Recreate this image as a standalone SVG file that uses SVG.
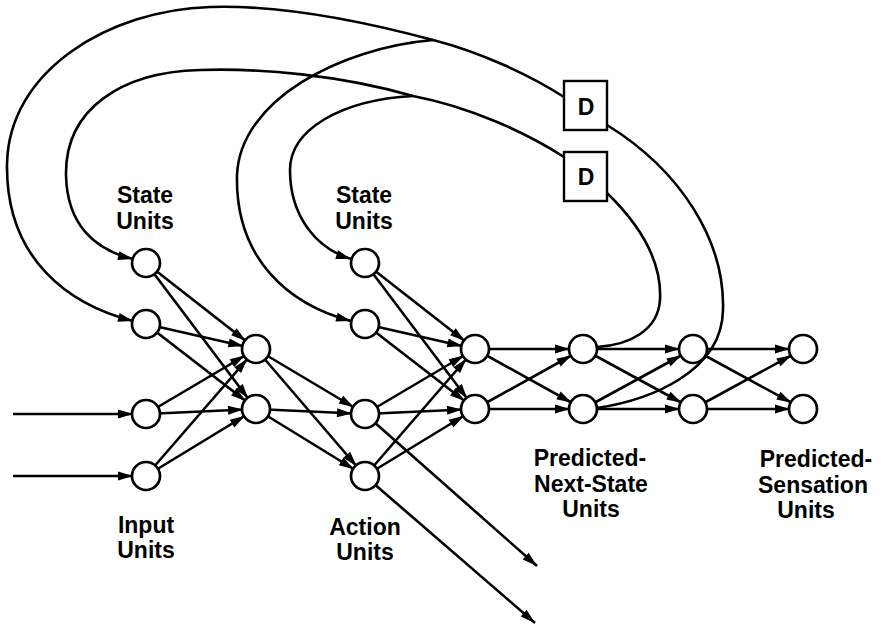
<svg xmlns="http://www.w3.org/2000/svg" width="882" height="629" viewBox="0 0 882 629">
<style>
.n{fill:#fff;stroke:#000;stroke-width:2.7}
.e{fill:none;stroke:#000;stroke-width:2.6;marker-end:url(#ac)}
.o{fill:none;stroke:#000;stroke-width:2.6;marker-end:url(#at)}
.f{fill:none;stroke:#000;stroke-width:2.6}
.d{fill:#fff;stroke:#000;stroke-width:2.4}
.t{font-family:"Liberation Sans",Arial,Helvetica,sans-serif;font-weight:bold;font-size:23px;text-anchor:middle;fill:#000}
.dt{font-family:"Liberation Sans",Arial,Helvetica,sans-serif;font-weight:bold;font-size:23px;text-anchor:middle;fill:#000}
</style>
<defs>
<marker id="ac" markerUnits="userSpaceOnUse" markerWidth="30" markerHeight="10" refX="28" refY="4.5" orient="auto" overflow="visible"><path d="M0,0 L15,4.5 L0,9 z" fill="#000"/></marker>
<marker id="at" markerUnits="userSpaceOnUse" markerWidth="16" markerHeight="10" refX="15" refY="4.5" orient="auto" overflow="visible"><path d="M0,0 L15,4.5 L0,9 z" fill="#000"/></marker>
</defs>
<g id="connectors">
<line class="e" x1="13" y1="414" x2="146" y2="414"/>
<line class="e" x1="13" y1="476" x2="146" y2="476"/>
<line class="e" x1="146" y1="263" x2="256" y2="349"/>
<line class="e" x1="146" y1="263" x2="256" y2="409"/>
<line class="e" x1="146" y1="324" x2="256" y2="349"/>
<line class="e" x1="146" y1="324" x2="256" y2="409"/>
<line class="e" x1="146" y1="414" x2="256" y2="349"/>
<line class="e" x1="146" y1="414" x2="256" y2="409"/>
<line class="e" x1="146" y1="476" x2="256" y2="349"/>
<line class="e" x1="146" y1="476" x2="256" y2="409"/>
<line class="e" x1="256" y1="349" x2="365" y2="414"/>
<line class="e" x1="256" y1="349" x2="365" y2="476"/>
<line class="e" x1="256" y1="409" x2="365" y2="414"/>
<line class="e" x1="256" y1="409" x2="365" y2="476"/>
<line class="e" x1="365" y1="263" x2="475" y2="349"/>
<line class="e" x1="365" y1="263" x2="475" y2="409"/>
<line class="e" x1="365" y1="324" x2="475" y2="349"/>
<line class="e" x1="365" y1="324" x2="475" y2="409"/>
<line class="e" x1="365" y1="414" x2="475" y2="349"/>
<line class="e" x1="365" y1="414" x2="475" y2="409"/>
<line class="e" x1="365" y1="476" x2="475" y2="349"/>
<line class="e" x1="365" y1="476" x2="475" y2="409"/>
<line class="o" x1="365" y1="414" x2="537" y2="566"/>
<line class="o" x1="365" y1="476" x2="535" y2="623"/>
<line class="e" x1="475" y1="349" x2="583" y2="349"/>
<line class="e" x1="475" y1="349" x2="583" y2="409"/>
<line class="e" x1="475" y1="409" x2="583" y2="349"/>
<line class="e" x1="475" y1="409" x2="583" y2="409"/>
<line class="e" x1="583" y1="349" x2="693" y2="349"/>
<line class="e" x1="583" y1="349" x2="693" y2="409"/>
<line class="e" x1="583" y1="409" x2="693" y2="349"/>
<line class="e" x1="583" y1="409" x2="693" y2="409"/>
<line class="e" x1="693" y1="349" x2="803" y2="349"/>
<line class="e" x1="693" y1="349" x2="803" y2="409"/>
<line class="e" x1="693" y1="409" x2="803" y2="349"/>
<line class="e" x1="693" y1="409" x2="803" y2="409"/>
<path class="f" d="M597,408 C650,400 722,372 723,310 C725,240 680,170 607,125"/>
<path class="f" d="M597,347 C630,345 658,330 660,300 C662,262 640,225 607,193"/>
<path class="f" d="M564,97 C530,75 480,52 433,40"/>
<path class="f" d="M564,157 C525,132 470,107 413,96"/>
<path class="o" d="M433,40 C340,15 270,5 210,7 C110,10 8,70 7,165 C6,260 70,305 133,321"/>
<path class="o" d="M433,40 C340,48 240,100 237,175 C235,260 290,305 351,321"/>
<path class="o" d="M413,96 C340,75 260,68 200,70 C120,72 65,110 66,175 C67,225 95,250 133,259"/>
<path class="o" d="M413,96 C340,100 290,130 290,170 C290,215 315,248 351,259"/>
</g>
<g id="delay1"><rect class="d" x="564" y="81" width="43" height="49"/><text class="dt" x="586" y="115">D</text></g>
<g id="delay2"><rect class="d" x="564" y="152" width="43" height="49"/><text class="dt" x="586" y="185">D</text></g>
<g id="state1a"><circle class="n" cx="146" cy="263" r="14"/></g>
<g id="state1b"><circle class="n" cx="146" cy="324" r="14"/></g>
<g id="input1"><circle class="n" cx="146" cy="414" r="14"/></g>
<g id="input2"><circle class="n" cx="146" cy="476" r="14"/></g>
<g id="hidden1a"><circle class="n" cx="256" cy="349" r="14"/></g>
<g id="hidden1b"><circle class="n" cx="256" cy="409" r="14"/></g>
<g id="state2a"><circle class="n" cx="365" cy="263" r="14"/></g>
<g id="state2b"><circle class="n" cx="365" cy="324" r="14"/></g>
<g id="action1"><circle class="n" cx="365" cy="414" r="14"/></g>
<g id="action2"><circle class="n" cx="365" cy="476" r="14"/></g>
<g id="hidden2a"><circle class="n" cx="475" cy="349" r="14"/></g>
<g id="hidden2b"><circle class="n" cx="475" cy="409" r="14"/></g>
<g id="pns1"><circle class="n" cx="583" cy="349" r="14"/></g>
<g id="pns2"><circle class="n" cx="583" cy="409" r="14"/></g>
<g id="hidden3a"><circle class="n" cx="693" cy="349" r="14"/></g>
<g id="hidden3b"><circle class="n" cx="693" cy="409" r="14"/></g>
<g id="ps1"><circle class="n" cx="803" cy="349" r="14"/></g>
<g id="ps2"><circle class="n" cx="803" cy="409" r="14"/></g>
<g id="labels">
<text class="t" x="145" y="203">State</text><text class="t" x="145" y="229">Units</text>
<text class="t" x="364" y="203">State</text><text class="t" x="364" y="229">Units</text>
<text class="t" x="146" y="533">Input</text><text class="t" x="146" y="558">Units</text>
<text class="t" x="365" y="535">Action</text><text class="t" x="365" y="560">Units</text>
<text class="t" x="590" y="466">Predicted-</text><text class="t" x="591" y="492">Next-State</text><text class="t" x="591" y="517">Units</text>
<text class="t" x="816" y="467">Predicted-</text><text class="t" x="813" y="493">Sensation</text><text class="t" x="806" y="518">Units</text>
</g>
</svg>
